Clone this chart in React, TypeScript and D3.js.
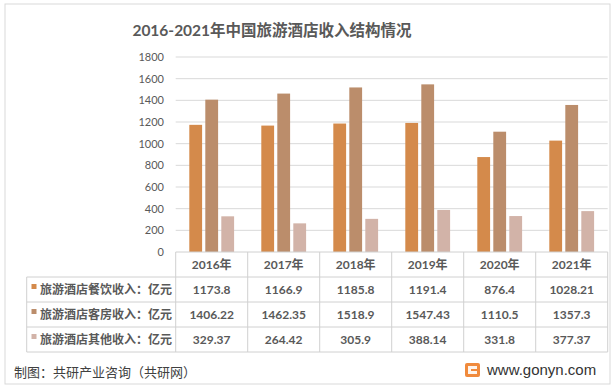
import React from "react";
import * as d3 from "d3";

const years = ["2016年", "2017年", "2018年", "2019年", "2020年", "2021年"];
const seriesNames = ["旅游酒店餐饮收入：亿元", "旅游酒店客房收入：亿元", "旅游酒店其他收入：亿元"];
const catering = [1173.8, 1166.9, 1185.8, 1191.4, 876.4, 1028.21];
const rooms = [1406.22, 1462.35, 1518.9, 1547.43, 1110.5, 1357.3];
const others = [329.37, 264.42, 305.9, 388.14, 331.8, 377.37];
const yTicks = [0, 200, 400, 600, 800, 1000, 1200, 1400, 1600, 1800];
const colors = ["#D48A4B", "#BB8D6B", "#D2B3A8"];

const W = 615;
const H = 390;
const plotLeft = 175.7;
const plotRight = 607.7;
const plotTop = 57;
const plotBottom = 252;
const legendLeft = 26.7;
const rowH = 25;
const font = "Lato, 'Noto Sans CJK SC', sans-serif";
const cjk = "'Noto Sans CJK SC', sans-serif";

export default function App() {
  const series = [catering, rooms, others];
  const x = d3.scaleBand<string>().domain(years).range([plotLeft, plotRight]);
  const xs = d3
    .scaleBand<number>()
    .domain([0, 1, 2])
    .range([0, x.bandwidth()])
    .paddingInner(0.2)
    .paddingOuter(0.85);
  const y = d3.scaleLinear().domain([0, 1800]).range([plotBottom, plotTop]);
  const fmt = (v: number) => String(v);
  const lineColor = "#D0D0D0";

  return (
    <svg
      width={W}
      height={H}
      style={{ position: "absolute", left: 0, top: 0, background: "#fff" }}
    >
      <rect x={5} y={4} width={605} height={380} fill="#fff" stroke="#D9D9D9" strokeWidth={1} />
      <text
        x={272}
        y={36}
        textAnchor="middle"
        fontFamily={font}
        fontWeight="bold"
        fontSize={15.5}
        fill="#595959"
      >
        2016-2021年中国旅游酒店收入结构情况
      </text>

      {yTicks.map((t) => (
        <g key={t}>
          {t > 0 && (
            <line x1={plotLeft} x2={plotRight} y1={y(t)} y2={y(t)} stroke="#D9D9D9" strokeWidth={1} />
          )}
          <text
            x={164}
            y={y(t)}
            dy="0.35em"
            textAnchor="end"
            fontFamily={font}
            fontSize={11}
            fill="#595959"
          >
            {t}
          </text>
        </g>
      ))}

      {series.map((vals, si) =>
        vals.map((v, i) => (
          <rect
            key={`${si}-${i}`}
            x={(x(years[i]) as number) + (xs(si) as number)}
            y={y(v)}
            width={xs.bandwidth()}
            height={plotBottom - y(v)}
            fill={colors[si]}
          />
        ))
      )}

      <g stroke={lineColor} strokeWidth={1} fill="none">
        <line x1={plotLeft} x2={plotRight} y1={plotBottom} y2={plotBottom} />
        {[1, 2, 3, 4].map((r) => (
          <line key={r} x1={legendLeft} x2={plotRight} y1={plotBottom + r * rowH} y2={plotBottom + r * rowH} />
        ))}
        <line x1={legendLeft} x2={legendLeft} y1={plotBottom + rowH} y2={plotBottom + 4 * rowH} />
        {years.map((yr) => (
          <line
            key={yr}
            x1={x(yr) as number}
            x2={x(yr) as number}
            y1={plotBottom}
            y2={plotBottom + 4 * rowH}
          />
        ))}
        <line x1={plotRight} x2={plotRight} y1={plotBottom} y2={plotBottom + 4 * rowH} />
      </g>

      {years.map((yr) => (
        <text
          key={yr}
          x={(x(yr) as number) + x.bandwidth() / 2}
          y={plotBottom + rowH / 2}
          dy="0.36em"
          textAnchor="middle"
          fontFamily={font}
          fontWeight="bold"
          fontSize={12}
          fill="#595959"
        >
          {yr}
        </text>
      ))}

      {series.map((vals, si) => {
        const cy = plotBottom + (si + 1) * rowH + rowH / 2;
        return (
          <g key={si}>
            <rect x={31.5} y={cy - 5.5} width={5} height={5} fill={colors[si]} />
            <text
              x={40}
              y={cy}
              dy="0.36em"
              fontFamily={cjk}
              fontWeight="bold"
              fontSize={12}
              fill="#595959"
            >
              {seriesNames[si]}
            </text>
            {vals.map((v, i) => (
              <text
                key={i}
                x={(x(years[i]) as number) + x.bandwidth() / 2}
                y={cy}
                dy="0.36em"
                textAnchor="middle"
                fontFamily={font}
                fontWeight="bold"
                fontSize={12}
                fill="#595959"
              >
                {fmt(v)}
              </text>
            ))}
          </g>
        );
      })}

      <text x={14} y={372} dy="0.36em" fontFamily={cjk} fontSize={13} fill="#404040">
        制图：共研产业咨询（共研网）
      </text>

      <g transform="translate(465,363)">
        <rect x={0} y={0} width={15} height={14} rx={2} fill="#F08A3C" />
        <path d="M3 3 H12 V6 H6 V8 H12 V11 H3 Z" fill="#fff" opacity={0.9} />
      </g>
      <text x={487} y={370} dy="0.36em" fontFamily="'Liberation Sans', Arial, sans-serif" fontSize={15} fill="#333">
        www.gonyn.com
      </text>
    </svg>
  );
}
